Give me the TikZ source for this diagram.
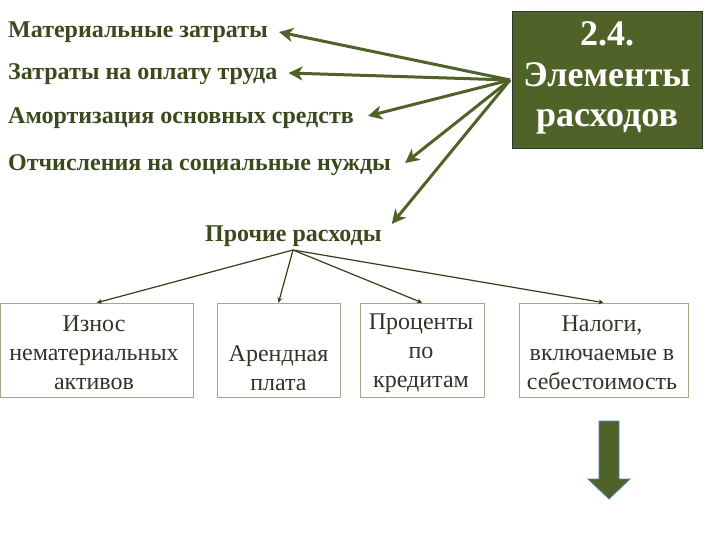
\documentclass[tikz,border=0pt]{standalone}
\usepackage{fontspec}
\setmainfont{Liberation Serif}
\usetikzlibrary{arrows.meta}
\definecolor{olivebox}{HTML}{4F6228}
\definecolor{olivetxt}{HTML}{3B4A1C}
\definecolor{boxline}{HTML}{A8A48C}
\definecolor{arrowline}{HTML}{4F81BD}
\definecolor{itemtxt}{HTML}{33332A}
\tikzset{
  lefttext/.style={anchor=base west, inner sep=0pt, text=olivetxt, font=\fontsize{24}{28}\selectfont\bfseries},
  bigarrow/.style={draw=olivebox, line width=3pt, -{Stealth[length=14pt,width=14pt,inset=4pt]}},
  smallarrow/.style={draw=olivetxt!85!black, line width=1.2pt, -{Stealth[length=5pt,width=5pt]}},
  itembox/.style={draw=boxline, line width=0.7pt, inner sep=0pt, minimum height=94pt},
  itemtext/.style={align=center, inner sep=0pt, text=itemtxt, font=\fontsize{24}{29}\selectfont},
}
\begin{document}
\begin{tikzpicture}[x=1pt,y=-1pt]
\useasboundingbox (0,0) rectangle (720,540);
% title box
\node[fill=olivebox, draw=black!80, line width=0.8pt, minimum width=190pt, minimum height=137pt, inner sep=0pt] (title) at (607,79.5) {};
\node[align=center, inner sep=0pt, text=white, font=\fontsize{36}{40.5}\selectfont\bfseries] (titletext) at (607,78) {2.4.\\Элементы\\расходов};
\coordinate (src) at (510,80);
% left texts
\node[lefttext] (m1) at (8,38) {Материальные затраты};
\node[lefttext] (m2) at (8,80) {Затраты на оплату труда};
\node[lefttext] (m3) at (8,124) {Амортизация основных средств};
\node[lefttext] (m4) at (8,171) {Отчисления на социальные нужды};
\node[lefttext] (m5) at (205,241) {Прочие расходы};
\draw[bigarrow] (src) -- ([shift={(11,-6)}]m1.base east);
\draw[bigarrow] (src) -- ([shift={(11,-7)}]m2.base east);
\draw[bigarrow] (src) -- ([shift={(14,-8)}]m3.base east);
\draw[bigarrow] (src) -- ([shift={(14,-8)}]m4.base east);
\draw[bigarrow] (src) -- ([shift={(10,-17)}]m5.base east);
% bottom boxes
\node[itembox, minimum width=193pt] (b1) at (97,350) {};
\node[itembox, minimum width=123pt] (b2) at (278.5,350) {};
\node[itembox, minimum width=124pt] (b3) at (422,350) {};
\node[itembox, minimum width=169pt] (b4) at (603.5,350) {};
\node[itemtext] (t1) at (94,353) {Износ\\нематериальных\\активов};
\node[itemtext] (t2) at (278.5,368) {Арендная\\плата};
\node[itemtext] (t3) at (421,353) {Проценты\\по\\кредитам};
\node[itemtext] (t4) at (602,353) {Налоги,\\включаемые в\\себестоимость};
\coordinate (hub) at (293,250);
\draw[smallarrow] (hub) -- (b1.north);
\draw[smallarrow] (hub) -- (b2.north);
\draw[smallarrow] (hub) -- (b3.north);
\draw[smallarrow] (hub) -- (b4.north);
% down arrow
\draw[fill=olivebox, draw=arrowline, line width=0.8pt] (599,421) -- (619,421) -- (619,479) -- (630,479) -- (609,499) -- (588,479) -- (599,479) -- cycle;
\end{tikzpicture}
\end{document}
